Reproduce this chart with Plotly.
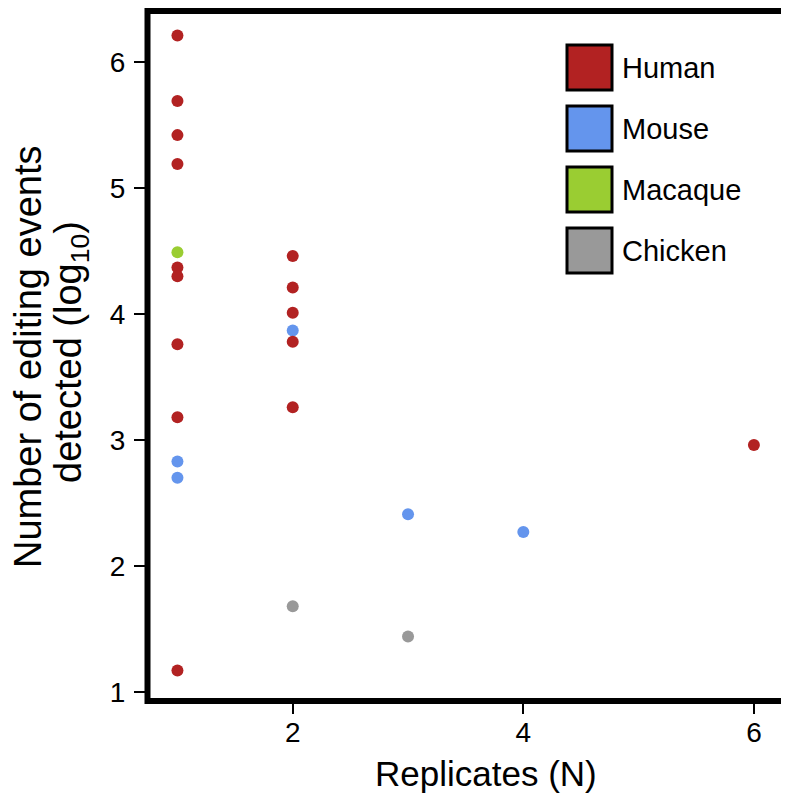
import plotly.graph_objects as go

# ---- data ----
species = ["Human", "Mouse", "Macaque", "Chicken"]
colors = ["#B22222", "#6495ED", "#9ACD32", "#999999"]

human_x = [1, 1, 1, 1, 1, 1, 1, 1, 1, 2, 2, 2, 2, 2, 6]
human_y = [6.21, 5.69, 5.42, 5.19, 4.37, 4.30, 3.76, 3.18, 1.17,
           4.46, 4.21, 4.01, 3.78, 3.26, 2.96]
mouse_x = [1, 1, 2, 3, 4]
mouse_y = [2.83, 2.70, 3.87, 2.41, 2.27]
macaque_x = [1]
macaque_y = [4.49]
chicken_x = [2, 3]
chicken_y = [1.68, 1.44]

x_ticks = [2, 4, 6]
y_ticks = [1, 2, 3, 4, 5, 6]

FONT = "Liberation Sans, Arial, Helvetica, sans-serif"

# page has an 8px body margin; positions below are in page pixels
OFF = 8
W, H = 789, 795
ML, MR, MT, MB = 150 - OFF, 789 - (781 - OFF), 0, 795 - (698 - OFF)
PW = W - ML - MR
PH = H - MT - MB


def px_x(p):
    return (p - OFF - ML) / PW


def px_y(p):
    return (H - MB - (p - OFF)) / PH


fig = go.Figure()
series = [
    ("Chicken", chicken_x, chicken_y, colors[3]),
    ("Macaque", macaque_x, macaque_y, colors[2]),
    ("Mouse", mouse_x, mouse_y, colors[1]),
    ("Human", human_x, human_y, colors[0]),
]
for name, xs, ys, c in series:
    fig.add_trace(go.Scatter(
        x=xs, y=ys, mode="markers", name=name, showlegend=False,
        marker=dict(size=12, color=c, line=dict(width=0)),
    ))

shapes = []
annotations = []

# thick frame around the plotting area
shapes.append(dict(
    type="rect", xref="paper", yref="paper",
    x0=px_x(147.5), x1=px_x(784), y0=px_y(701), y1=px_y(11),
    line=dict(color="black", width=6), fillcolor="rgba(0,0,0,0)", layer="above",
))

# manual legend (large squares with black border)
for i, (name, c) in enumerate(zip(species, colors)):
    top = 45 + 61 * i
    shapes.append(dict(
        type="rect", xref="paper", yref="paper",
        x0=px_x(567), x1=px_x(612), y0=px_y(top + 45), y1=px_y(top),
        fillcolor=c, line=dict(color="black", width=3), layer="above",
    ))
    annotations.append(dict(
        xref="paper", yref="paper", x=px_x(620), y=px_y(top + 23),
        xanchor="left", yanchor="middle", text=name, showarrow=False,
        font=dict(family=FONT, size=29, color="black"),
    ))

# y-axis title as two lines
annotations.append(dict(
    xref="paper", yref="paper", x=px_x(28), y=px_y(357),
    xanchor="center", yanchor="middle", textangle=-90,
    text="Number of editing events", showarrow=False,
    font=dict(family=FONT, size=38, color="black"),
))
annotations.append(dict(
    xref="paper", yref="paper", x=px_x(71), y=px_y(352),
    xanchor="center", yanchor="middle", textangle=-90,
    text="detected (log<sub>10</sub>)", showarrow=False,
    font=dict(family=FONT, size=38, color="black"),
))
# x-axis title
annotations.append(dict(
    xref="paper", yref="paper", x=px_x(486), y=px_y(773),
    xanchor="center", yanchor="middle",
    text="Replicates (N)", showarrow=False,
    font=dict(family=FONT, size=35, color="black"),
))

fig.update_layout(
    width=W, height=H,
    margin=dict(l=ML, r=MR, t=MT, b=MB, pad=0),
    paper_bgcolor="white", plot_bgcolor="white",
    font=dict(family=FONT, color="black"),
    shapes=shapes, annotations=annotations,
    showlegend=False,
)
fig.update_xaxes(
    range=[0.762, 6.235], tickvals=x_ticks, ticktext=[str(v) for v in x_ticks],
    showgrid=False, zeroline=False, automargin=False, showline=False,
    ticks="outside", ticklen=15, tickwidth=2, tickcolor="black",
    tickfont=dict(family=FONT, size=28, color="black"),
    ticklabelstandoff=-6,
)
fig.update_yaxes(
    range=[0.952, 6.429], tickvals=y_ticks, ticktext=[str(v) for v in y_ticks],
    showgrid=False, zeroline=False, automargin=False, showline=False,
    ticks="outside", ticklen=15, tickwidth=2, tickcolor="black",
    tickfont=dict(family=FONT, size=28, color="black"),
    ticklabelstandoff=3,
)

fig.write_html("out.html")
